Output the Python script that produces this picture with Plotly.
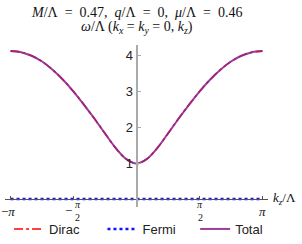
import math
import plotly.graph_objects as go

PI = math.pi
# sampling grid: k_z in units of pi/12, from -pi to pi
kz_steps = [-12, -11, -10, -9, -8, -7, -6, -5, -4, -3, -2, -1, 0,
            1, 2, 3, 4, 5, 6, 7, 8, 9, 10, 11, 12]
kz = [s * PI / 12 for s in kz_steps]

omega_total = [4.13, 4.10, 4.00, 3.84, 3.61, 3.33, 3.00, 2.63, 2.24, 1.83, 1.43, 1.12, 0.99,
               1.12, 1.43, 1.83, 2.24, 2.63, 3.00, 3.33, 3.61, 3.84, 4.00, 4.10, 4.13]
omega_dirac = [4.13, 4.10, 4.00, 3.84, 3.61, 3.33, 3.00, 2.63, 2.24, 1.83, 1.43, 1.12, 0.99,
               1.12, 1.43, 1.83, 2.24, 2.63, 3.00, 3.33, 3.61, 3.84, 4.00, 4.10, 4.13]
omega_fermi = [0, 0, 0, 0, 0, 0, 0, 0, 0, 0, 0, 0, 0,
               0, 0, 0, 0, 0, 0, 0, 0, 0, 0, 0, 0]

series_names = ["Dirac", "Fermi", "Total"]
ytick_vals = [1, 2, 3, 4]
xtick_vals = [-PI, -PI / 2, PI / 2, PI]

ES = "\u2002"
title_line1 = ("<i>M</i>/Λ" + ES + "=" + ES + "0.47," + ES + "<i>q</i>/Λ" + ES + "=" + ES + "0,"
               + ES + "<i>μ</i>/Λ" + ES + "=" + ES + "0.46")
title_line2 = ("<i>ω</i>/Λ (<i>k</i><sub><i>x</i></sub> = <i>k</i><sub><i>y</i></sub> = 0, "
               "<i>k</i><sub><i>z</i></sub>)")
xlabel = "<i>k</i><sub><i>z</i></sub>/Λ"

RED = "#ff0000"
BLUE = "#1010ff"
PURPLE = "#8e2a8e"
SERIF = "Liberation Serif, Times New Roman, serif"
SANS = "Liberation Sans, Arial, sans-serif"
NB = "\u00a0"

fig = go.Figure()
fig.add_trace(go.Scatter(x=kz, y=omega_dirac, mode="lines", name=series_names[0] + NB * 5,
                         line=dict(color=RED, width=1.6, dash="dashdot", shape="spline")))
fig.add_trace(go.Scatter(x=kz, y=omega_fermi, mode="lines", name=series_names[1] + NB * 4,
                         line=dict(color=BLUE, width=2.5, dash="3px,3px")))
fig.add_trace(go.Scatter(x=kz, y=omega_total, mode="lines", name=series_names[2],
                         line=dict(color=PURPLE, width=2, shape="spline"), opacity=0.9))

XR = 3.28
fig.update_layout(
    width=302, height=244,
    margin=dict(l=5, r=34, t=45, b=37, autoexpand=False),
    paper_bgcolor="white", plot_bgcolor="white",
    xaxis=dict(range=[-XR, XR], showgrid=False, zeroline=False,
               showline=True, linecolor="#555", linewidth=1,
               anchor="free", position=8 / 162,
               tickvals=xtick_vals, showticklabels=False,
               ticks="inside", ticklen=3, tickcolor="#555"),
    yaxis=dict(range=[-0.223, 4.30], showgrid=False, zeroline=False,
               showline=True, linecolor="#aaaaaa", linewidth=2,
               anchor="free", position=0.5,
               tickvals=ytick_vals, ticks="inside", ticklen=3, tickcolor="#aaaaaa",
               tickfont=dict(family=SANS, size=13, color="#222")),
    legend=dict(orientation="h", xref="container", yref="container",
                x=0.03, y=-0.02, xanchor="left", yanchor="bottom",
                font=dict(family=SANS, size=13, color="#222"),
                tracegroupgap=0, bgcolor="rgba(0,0,0,0)"),
    showlegend=True,
)

# titles centered on the vertical axis
fig.add_annotation(x=0, xref="x", y=1.0, yref="paper", text=title_line1,
                   showarrow=False, font=dict(family=SERIF, size=14, color="#111"),
                   yshift=33, yanchor="middle")
fig.add_annotation(x=0, xref="x", y=1.0, yref="paper", text=title_line2,
                   showarrow=False, font=dict(family=SERIF, size=14, color="#111"),
                   yshift=18, yanchor="middle")

# x-axis label
fig.add_annotation(x=1.0, xref="paper", y=0, yref="y", text=xlabel, showarrow=False,
                   xanchor="left", yanchor="middle", xshift=3, yshift=1,
                   font=dict(family=SERIF, size=13, color="#111"))

# x tick labels
tick_font = dict(family=SERIF, size=13, color="#111")
frac_font = dict(family=SERIF, size=10, color="#111")
for v in xtick_vals:
    if abs(abs(v) - PI) < 1e-9:
        txt = ("−" if v < 0 else "") + "<i>π</i>"
        fig.add_annotation(x=v, y=0, xref="x", yref="y", text=txt, showarrow=False,
                           yshift=-12, xshift=(-3 if v < 0 else 0), font=tick_font)
    else:
        cx = 3 if v < 0 else 0
        if v < 0:
            fig.add_annotation(x=v, y=0, xref="x", yref="y", text="−", showarrow=False,
                               xshift=-5, yshift=-11, font=tick_font)
        fig.add_annotation(x=v, y=0, xref="x", yref="y", text="<i>π</i>", showarrow=False,
                           xshift=cx + 1, yshift=-5, font=frac_font)
        fig.add_annotation(x=v, y=0, xref="x", yref="y", text="2", showarrow=False,
                           xshift=cx + 1, yshift=-18, font=frac_font)
        fig.add_shape(type="line", xref="x", yref="y", xsizemode="pixel", ysizemode="pixel",
                      xanchor=v, yanchor=0, x0=cx - 2, x1=cx + 4, y0=-11, y1=-11,
                      line=dict(color="#333", width=0.8))

fig.write_html("out.html", config={"displayModeBar": False},
               post_script="document.body.style.margin='0';document.body.style.overflow='hidden';")
